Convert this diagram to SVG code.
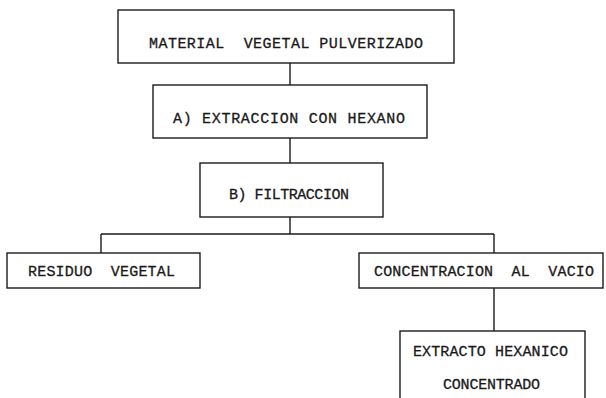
<svg xmlns="http://www.w3.org/2000/svg" width="606" height="398" viewBox="0 0 606 398">
<style>
.box{fill:#fff;stroke:#1a1a1a;stroke-width:1.4}
.t{font-family:"Liberation Mono","DejaVu Sans Mono",monospace;font-size:15px;fill:#1a1a1a;stroke:#1a1a1a;stroke-width:0.3;white-space:pre}
.c{fill:none;stroke:#1a1a1a;stroke-width:1.4}
</style>
<rect width="606" height="398" fill="#fff"/>
<g id="connectors">
<path class="c" d="M290 63V85M290 138V163M290 217V234M101 234H494M101 234V253M494 234V253M494 288V331"/>
</g>
<g id="n1"><rect class="box" x="118" y="10" width="336" height="53"/><text class="t" x="149" y="48" textLength="274" xml:space="preserve">MATERIAL  VEGETAL PULVERIZADO</text></g>
<g id="n2"><rect class="box" x="153" y="85" width="274" height="53"/><text class="t" x="173" y="123" textLength="232" xml:space="preserve">A) EXTRACCION CON HEXANO</text></g>
<g id="n3"><rect class="box" x="200" y="163" width="183" height="54"/><text class="t" x="229" y="199" textLength="120" xml:space="preserve">B) FILTRACCION</text></g>
<g id="n4"><rect class="box" x="7" y="253" width="193" height="35"/><text class="t" x="28" y="276" textLength="147" xml:space="preserve">RESIDUO  VEGETAL</text></g>
<g id="n5"><rect class="box" x="359" y="253" width="244" height="35"/><text class="t" x="374" y="276" textLength="220" xml:space="preserve">CONCENTRACION  AL  VACIO</text></g>
<g id="n6"><rect class="box" x="400" y="331" width="185" height="80"/><text class="t" x="413" y="356" textLength="155">EXTRACTO HEXANICO</text><text class="t" x="443" y="389" textLength="97">CONCENTRADO</text></g>
</svg>
